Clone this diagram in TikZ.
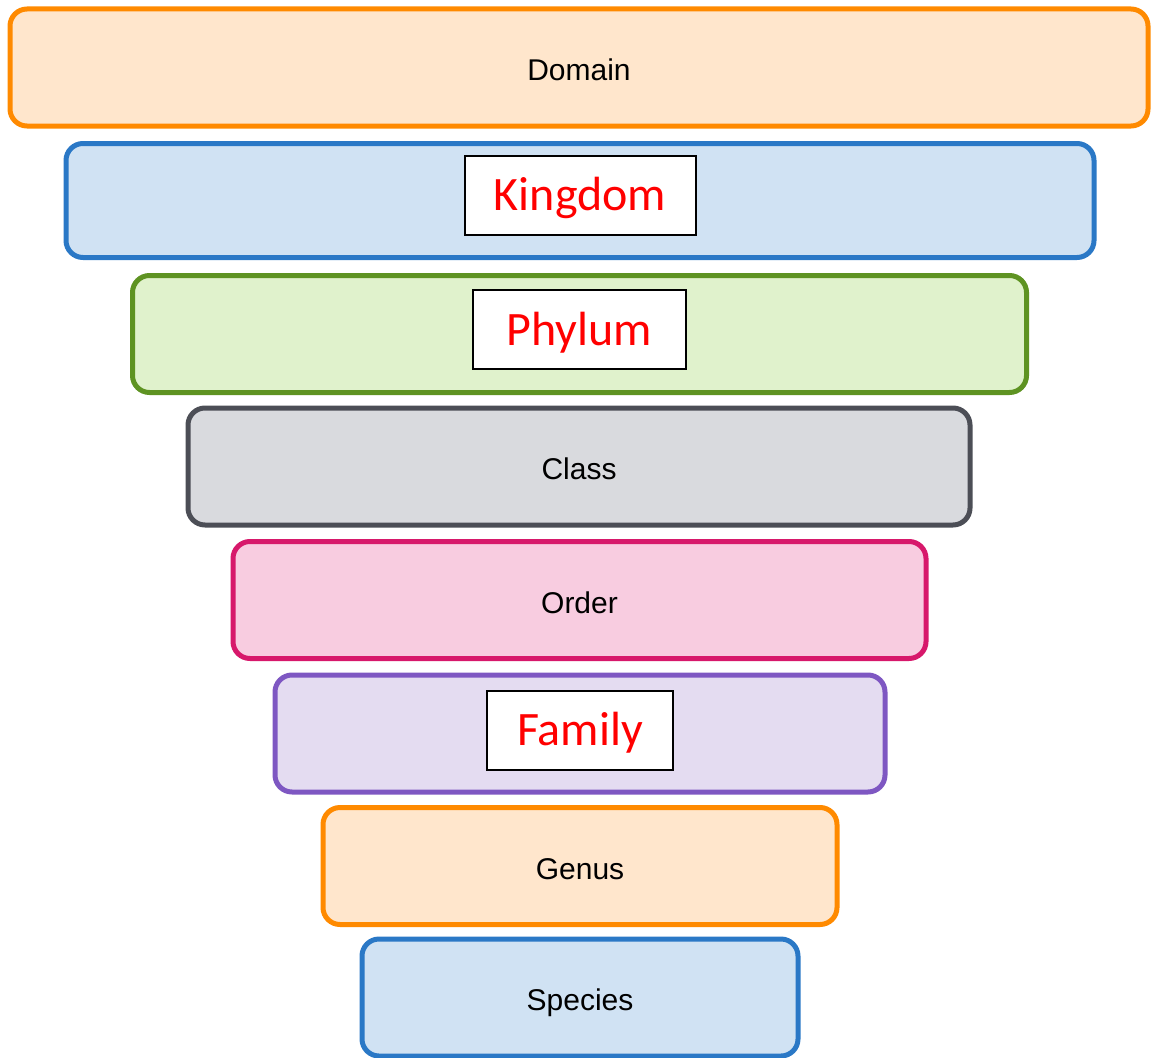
\documentclass[tikz,border=0pt]{standalone}
\usepackage{fontspec}
\setmainfont{Liberation Sans}
\newfontfamily\calib{Carlito}
\definecolor{orgD}{HTML}{FF8A00}\definecolor{orgF}{HTML}{FFE6CC}
\definecolor{bluD}{HTML}{2A78C6}\definecolor{bluF}{HTML}{D0E2F3}
\definecolor{grnD}{HTML}{5E9322}\definecolor{grnF}{HTML}{E0F2CC}
\definecolor{gryD}{HTML}{4C4E56}\definecolor{gryF}{HTML}{D9DADE}
\definecolor{pnkD}{HTML}{D7186B}\definecolor{pnkF}{HTML}{F8CCE0}
\definecolor{purD}{HTML}{7E57C2}\definecolor{purF}{HTML}{E4DCF1}
\tikzset{
  rank/.style n args={3}{draw=#1, fill=#2, line width=5pt, rounded corners=17pt,
    minimum width=#3, minimum height=117pt, inner sep=0pt},
  lbl/.style={font=\fontsize{30}{30}\selectfont, text height=21pt, text depth=0pt, inner sep=0pt},
  tag/.style={draw=black, fill=white, line width=2pt, inner sep=0pt, minimum height=79pt,
    minimum width=#1, text=red, font=\calib\fontsize{48}{48}\selectfont,
    text height=31pt, text depth=0pt}
}
\begin{document}
\begin{tikzpicture}[x=1pt,y=-1pt]
\useasboundingbox (0,0) rectangle (1153,1057);
% nested taxonomic ranks, widest on top
\node[rank={orgD}{orgF}{1138pt}] (domain)  at (579,67.5)  {};
\node[rank={bluD}{bluF}{1028pt}, minimum height=114pt] (kingdom) at (580,200.5) {};
\node[rank={grnD}{grnF}{894pt}]  (phylum)  at (579.5,334) {};
\node[rank={gryD}{gryF}{782pt}]  (class)   at (579,466.5) {};
\node[rank={pnkD}{pnkF}{693pt}]  (order)   at (579.5,600) {};
\node[rank={purD}{purF}{610pt}]  (family)  at (580,733.5) {};
\node[rank={orgD}{orgF}{514pt}]  (genus)   at (580,866) {};
\node[rank={bluD}{bluF}{436pt}]  (species) at (580,997.5) {};
% plain labels
\node[lbl] (domainT)  at ([yshift=-2.5pt]domain.center)  {Domain};
\node[lbl] (classT)   at ([yshift=-2.5pt]class.center)   {Class};
\node[lbl] (orderT)   at ([yshift=-2.5pt]order.center)   {Order};
\node[lbl] (genusT)   at ([yshift=-2.5pt]genus.center)   {Genus};
\node[lbl] (speciesT) at ([yshift=-2.5pt]species.center) {Species};
% highlighted labels
\node[tag=231pt] (kingdomT) at ([yshift=5.5pt]kingdom.center) {Kingdom};
\node[tag=213pt] (phylumT)  at ([yshift=4.5pt]phylum.center)  {Phylum};
\node[tag=186pt] (familyT)  at ([yshift=3.5pt]family.center)  {Family};
\end{tikzpicture}
\end{document}
